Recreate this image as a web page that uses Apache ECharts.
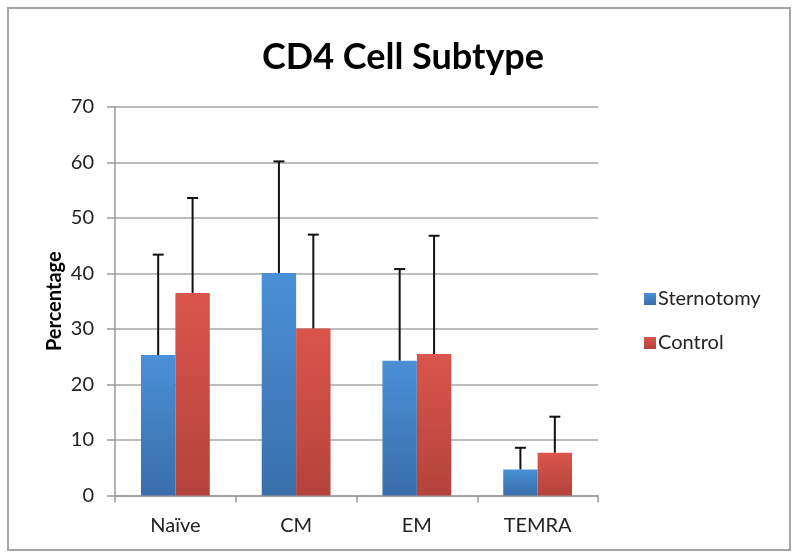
<!DOCTYPE html>
<html>
<head>
<meta charset="utf-8">
<script src="https://cdn.jsdelivr.net/npm/echarts@6/dist/echarts.min.js"></script>
<style>
html,body{margin:0;padding:0;background:#fff;}
#chart{width:800px;height:559px;}
#frame{position:absolute;left:7px;top:7px;width:784px;height:544px;border:2px solid #a6a6a6;box-sizing:border-box;pointer-events:none;}
</style>
</head>
<body>
<div id="chart"></div>
<div id="frame"></div>
<script>
const categories = ['Naïve', 'CM', 'EM', 'TEMRA'];
const sternotomy = [25.3, 40.1, 24.3, 4.7];
const sternotomyUpper = [43.4, 60.2, 40.8, 8.6];
const control = [36.5, 30.1, 25.5, 7.7];
const controlUpper = [53.6, 47.0, 46.8, 14.2];
const yTicks = [0, 10, 20, 30, 40, 50, 60, 70];

const FONT = 'Lato, "Open Sans", sans-serif';
const GAP = 0.43;

function grad(top, bottom) {
  return new echarts.graphic.LinearGradient(0, 0, 0, 1, [
    { offset: 0, color: top }, { offset: 1, color: bottom }
  ]);
}

function errorSeries(name, values, uppers, side) {
  return {
    type: 'custom',
    name: name + ' error',
    z: 5,
    silent: true,
    data: values.map((v, i) => [i, v, uppers[i]]),
    encode: { x: 0, y: 2 },
    renderItem: function (params, api) {
      const i = api.value(0);
      const base = api.coord([i, api.value(1)]);
      const top = api.coord([i, api.value(2)]);
      const band = api.size([1, 0])[0];
      const bw = band * (1 - GAP) / 2;
      const x = base[0] + side * bw / 2;
      const cap = 5.5;
      const style = { stroke: '#111', lineWidth: 2, fill: null };
      return {
        type: 'group',
        children: [
          { type: 'line', shape: { x1: x, y1: base[1], x2: x, y2: top[1] }, style: style },
          { type: 'line', shape: { x1: x - cap, y1: top[1], x2: x + cap, y2: top[1] }, style: style }
        ]
      };
    }
  };
}

const chart = echarts.init(document.getElementById('chart'), null, { renderer: 'canvas' });
chart.setOption({
  animation: false,
  backgroundColor: '#fff',
  title: {
    text: 'CD4 Cell Subtype',
    left: 398, textAlign: 'center', top: 34,
    textStyle: { fontFamily: FONT, fontWeight: 'bold', fontSize: 36, color: '#000' }
  },
  legend: {
    orient: 'vertical',
    left: 639, top: 284,
    itemWidth: 12, itemHeight: 12, itemGap: 24,
    icon: 'rect',
    data: ['Sternotomy', 'Control'],
    textStyle: { fontFamily: FONT, fontSize: 20, color: '#222', padding: [0, 0, 0, -3] }
  },
  grid: { left: 115, right: 202, top: 107, bottom: 63.5, containLabel: false },
  xAxis: {
    type: 'category',
    data: categories,
    axisLine: { lineStyle: { color: '#999', width: 1.5 } },
    axisTick: { show: true, length: 7, lineStyle: { color: '#999', width: 1.5 } },
    axisLabel: { fontFamily: FONT, fontSize: 20, color: '#222', margin: 20 }
  },
  yAxis: {
    type: 'value',
    min: yTicks[0], max: yTicks[yTicks.length - 1], interval: 10,
    name: 'Percentage',
    nameLocation: 'middle', nameGap: 50, nameRotate: 90,
    nameMoveOverlap: false,
    nameTextStyle: { fontFamily: FONT, fontWeight: 'bold', fontSize: 20, color: '#000' },
    axisLine: { show: true, lineStyle: { color: '#999', width: 1.5 } },
    axisTick: { show: true, length: 8, lineStyle: { color: '#999', width: 1.5 } },
    axisLabel: { fontFamily: FONT, fontSize: 20, color: '#222', margin: 21 },
    splitLine: { lineStyle: { color: '#a6a6a6', width: 1.5 } }
  },
  series: [
    {
      name: 'Sternotomy', type: 'bar', data: sternotomy,
      barGap: '0%', barCategoryGap: (GAP * 100) + '%',
      itemStyle: { color: grad('#4a90d7', '#3a6eab') }
    },
    {
      name: 'Control', type: 'bar', data: control,
      barGap: '0%', barCategoryGap: (GAP * 100) + '%',
      itemStyle: { color: grad('#da554b', '#b4433b') }
    },
    errorSeries('Sternotomy', sternotomy, sternotomyUpper, -1),
    errorSeries('Control', control, controlUpper, 1)
  ]
});
</script>
</body>
</html>
